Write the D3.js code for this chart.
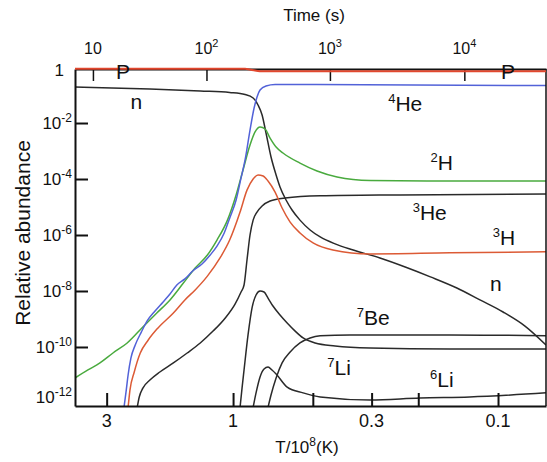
<!DOCTYPE html>
<html>
<head>
<meta charset="utf-8">
<script src="https://cdn.jsdelivr.net/npm/d3@7"></script>
<style>
  body { margin: 0; background: #fff; }
  svg { display: block; font-family: "Liberation Sans", Arial, Helvetica, sans-serif; }
</style>
</head>
<body>
<svg id="chart" width="547" height="462"></svg>
<script>
// each curve is [T in 10^8 K, relative abundance]
const protons = [[3.95, 0.87], [0.90, 0.87], [0.863, 0.81], [0.826, 0.75], [0.777, 0.70], [0.0659, 0.70]];

const neutrons = [[3.95, 0.193], [2.06, 0.164], [1.33, 0.139], [1.03, 0.123], [0.901, 0.104],
    [0.840, 0.078], [0.805, 0.044], [0.777, 0.0193], [0.751, 4.4e-3], [0.719, 6.1e-4],
    [0.688, 1.39e-4], [0.665, 5.2e-5], [0.631, 1.78e-5], [0.599, 7.8e-6], [0.559, 3.4e-6],
    [0.512, 1.51e-6], [0.469, 8.5e-7], [0.412, 4.8e-7], [0.352, 2.9e-7], [0.279, 1.51e-7],
    [0.224, 7.2e-8], [0.180, 3.2e-8], [0.143, 1.28e-8], [0.117, 4.8e-9], [0.0957, 1.78e-9],
    [0.0791, 5.6e-10], [0.0659, 1.18e-10]];

const helium4 = [[2.58, 7e-13], [2.53, 2.9e-12], [2.49, 1.0e-11], [2.43, 4.0e-11], [2.34, 1.18e-10],
    [2.22, 3.4e-10], [2.11, 8.5e-10], [1.97, 1.93e-9], [1.84, 4.0e-9], [1.73, 7.8e-9],
    [1.63, 1.64e-8], [1.52, 2.7e-8], [1.42, 5.2e-8], [1.31, 9.2e-8], [1.22, 1.93e-7],
    [1.15, 4.0e-7], [1.08, 1.18e-6], [1.03, 4.0e-6], [0.974, 1.78e-5], [0.933, 1.09e-4],
    [0.901, 4.8e-4], [0.863, 5.6e-3], [0.833, 0.0343], [0.812, 0.085], [0.791, 0.151],
    [0.751, 0.21], [0.694, 0.237], [0.0659, 0.218]];

const deuterium = [[3.95, 7.8e-12], [3.53, 1.51e-11], [3.18, 2.7e-11], [2.84, 6.1e-11], [2.51, 1.39e-10],
    [2.19, 5.2e-10], [1.94, 1.64e-9], [1.73, 4.8e-9], [1.54, 1.93e-8], [1.39, 6.6e-8],
    [1.25, 1.93e-7], [1.15, 6.6e-7], [1.05, 3.4e-6], [0.974, 2.7e-5], [0.917, 2.1e-4],
    [0.863, 1.64e-3], [0.826, 4.8e-3], [0.791, 7.2e-3], [0.757, 6.1e-3], [0.725, 2.9e-3],
    [0.688, 1.39e-3], [0.648, 8.5e-4], [0.559, 3.7e-4], [0.482, 1.93e-4], [0.405, 1.18e-4],
    [0.304, 8.8e-5], [0.152, 8.5e-5], [0.0659, 8.5e-5]];

const tritium = [[2.49, 7e-13], [2.45, 2.9e-12], [2.36, 1.28e-11], [2.24, 6.1e-11], [2.09, 1.78e-10],
    [1.92, 4.8e-10], [1.68, 1.64e-9], [1.52, 4.8e-9], [1.39, 1.09e-8], [1.25, 3.4e-8],
    [1.12, 1.51e-7], [1.03, 6.6e-7], [0.941, 6.6e-6], [0.886, 4.0e-5], [0.840, 1.0e-4],
    [0.805, 1.39e-4], [0.770, 1.28e-4], [0.738, 8.5e-5], [0.694, 3.4e-5], [0.653, 9.2e-6],
    [0.609, 2.9e-6], [0.559, 1.18e-6], [0.499, 5.2e-7], [0.420, 2.9e-7], [0.304, 2.1e-7],
    [0.152, 2.3e-7], [0.0659, 2.5e-7]];

const helium3 = [[2.30, 7e-13], [2.26, 1.64e-12], [2.19, 3.4e-12], [2.06, 6.6e-12], [1.89, 1.28e-11],
    [1.68, 2.7e-11], [1.49, 6.1e-11], [1.33, 1.39e-10], [1.19, 3.7e-10], [1.07, 1.09e-9],
    [0.983, 3.4e-9], [0.933, 9.2e-9], [0.909, 1.64e-8], [0.886, 1.28e-7], [0.863, 1.0e-6],
    [0.840, 3.4e-6], [0.812, 6.6e-6], [0.777, 1.09e-5], [0.725, 1.64e-5], [0.636, 2.1e-5],
    [0.469, 2.5e-5], [0.234, 2.7e-5], [0.0659, 2.9e-5]];

const lithium7 = [[0.941, 7e-13], [0.925, 3.4e-12], [0.909, 1.51e-11], [0.878, 2.7e-10], [0.848, 2.5e-9],
    [0.819, 7.2e-9], [0.791, 1.0e-8], [0.764, 9.2e-9], [0.738, 5.6e-9], [0.707, 2.9e-9],
    [0.665, 1.39e-9], [0.625, 7.2e-10], [0.583, 3.7e-10], [0.544, 2.1e-10], [0.490, 1.39e-10],
    [0.412, 1.09e-10], [0.304, 9.2e-11], [0.152, 8.5e-11], [0.0659, 8.5e-11]];

const beryllium7 = [[0.738, 7e-13], [0.719, 1.93e-12], [0.688, 7.8e-12], [0.653, 2.7e-11], [0.609, 6.6e-11],
    [0.559, 1.39e-10], [0.512, 2.1e-10], [0.469, 2.5e-10], [0.362, 2.7e-10], [0.152, 2.7e-10],
    [0.0659, 2.5e-10]];

const lithium6 = [[0.840, 7e-13], [0.819, 2.3e-12], [0.791, 8.5e-12], [0.764, 1.64e-11], [0.738, 1.93e-11],
    [0.713, 1.51e-11], [0.688, 1.09e-11], [0.625, 3.7e-12], [0.544, 2.3e-12], [0.469, 1.64e-12],
    [0.304, 1.28e-12], [0.197, 1.51e-12], [0.128, 1.64e-12], [0.0659, 2.3e-12]];

// axis ticks
const tempTicks = [3, 1, 0.3, 0.1];
const tempMinorTicks = [0.5, 0.2];
const abundanceTicks = [1, 1e-2, 1e-4, 1e-6, 1e-8, 1e-10, 1e-12];
// time axis: temperature where each time decade falls, and its exponent
const timeTickTemps = [3.38, 1.26, 0.431, 0.134];
const timeTickExps = ["", "2", "3", "4"];

// curve labels: superscript, name, and where they sit (T, abundance)
const curveLabels = [
    {sup: "", name: "P", T: 2.6, v: 0.66},
    {sup: "", name: "P", T: 0.0917, v: 0.66},
    {sup: "", name: "n", T: 2.32, v: 0.056},
    {sup: "4", name: "He", T: 0.224, v: 0.048},
    {sup: "2", name: "H", T: 0.163, v: 3.7e-4},
    {sup: "3", name: "He", T: 0.181, v: 6.1e-6},
    {sup: "3", name: "H", T: 0.0949, v: 7.8e-7},
    {sup: "", name: "n", T: 0.102, v: 1.78e-8},
    {sup: "7", name: "Be", T: 0.296, v: 1.1e-9},
    {sup: "7", name: "Li", T: 0.398, v: 1.78e-11},
    {sup: "6", name: "Li", T: 0.163, v: 6.6e-12}
];

const RED = "#e2472e";
const ORANGE = "#dc5a35";
const BLUE = "#5262d8";
const GREEN = "#49aa3e";
const BLACK = "#2a2a2a";

// black curves first, coloured ones on top
const series = [
    {pts: lithium6, color: BLACK},
    {pts: lithium7, color: BLACK},
    {pts: beryllium7, color: BLACK},
    {pts: helium3, color: BLACK},
    {pts: neutrons, color: BLACK},
    {pts: tritium, color: ORANGE},
    {pts: deuterium, color: GREEN},
    {pts: helium4, color: BLUE}
];

let svg = d3.select("#chart");
let plotLeft = 75, plotRight = 546, plotTop = 69, plotBottom = 406;

// temperature falls to the right
let x = d3.scaleLog().domain([3.95, 0.0659]).range([plotLeft, plotRight]);
let y = d3.scaleLog().domain([7.8e-13, 0.85]).range([plotBottom, plotTop]);

svg.append("clipPath").attr("id", "plotclip")
    .append("rect")
    .attr("x", plotLeft).attr("y", plotTop - 4)
    .attr("width", plotRight - plotLeft).attr("height", plotBottom - plotTop + 4);

let line = d3.line()
    .x(d => x(d[0]))
    .y(d => y(d[1]))
    .curve(d3.curveMonotoneX);

let curves = svg.append("g").attr("clip-path", "url(#plotclip)");

curves.selectAll("path.curve")
    .data(series)
    .enter().append("path")
    .attr("class", "curve")
    .attr("d", d => line(d.pts))
    .attr("fill", "none")
    .attr("stroke", d => d.color)
    .attr("stroke-width", 1.5);

//frame + ticks (ticks point inward)
let axisLeft = svg.append("g")
    .attr("transform", "translate(" + plotLeft + ",0)")
    .call(d3.axisLeft(y).tickValues(abundanceTicks.slice(1, 6)).tickSize(-13).tickSizeOuter(0).tickFormat(""));

let axisBottom = svg.append("g")
    .attr("transform", "translate(0," + plotBottom + ")")
    .call(d3.axisBottom(x).tickValues(tempTicks.concat(tempMinorTicks)).tickSize(-13).tickSizeOuter(0).tickFormat(""));

let axisTop = svg.append("g")
    .attr("transform", "translate(0," + plotTop + ")")
    .call(d3.axisTop(x).tickValues(timeTickTemps).tickSize(-12).tickSizeOuter(0).tickFormat(""));

svg.selectAll(".domain, .tick line").attr("stroke", "#111");
axisLeft.selectAll(".domain, .tick line").attr("stroke-width", 2);
axisBottom.selectAll(".domain, .tick line").attr("stroke-width", 2);
axisTop.selectAll(".domain").attr("stroke-width", 2);
axisTop.selectAll(".tick line").attr("stroke-width", 1.5);

svg.append("line")
    .attr("x1", plotRight).attr("x2", plotRight)
    .attr("y1", plotTop).attr("y2", plotBottom)
    .attr("stroke", "#111").attr("stroke-width", 1.5);

// the proton line sits on top of the frame
svg.append("g").attr("clip-path", "url(#plotclip)")
    .append("path")
    .attr("d", line(protons))
    .attr("fill", "none")
    .attr("stroke", RED)
    .attr("stroke-width", 2);

// left tick labels, 10 with superscript exponent
abundanceTicks.forEach(v => {
    let exp = Math.round(Math.log10(v));
    let ty = Math.min(Math.max(y(v), 70), 397);
    let t = svg.append("text")
        .attr("text-anchor", "end")
        .attr("y", ty + 6)
        .attr("fill", "#111");
    if (exp == 0) {
        t.attr("x", 64).attr("font-size", 17).text("1");
    } else {
        t.attr("x", 72);
        t.append("tspan").attr("font-size", 17).text("10");
        t.append("tspan").attr("font-size", 12).attr("dy", -7).text(String(exp));
    }
});

// bottom tick labels
svg.selectAll("text.tlabel")
    .data(tempTicks)
    .enter().append("text")
    .attr("class", "tlabel")
    .attr("x", d => x(d))
    .attr("y", 427)
    .attr("text-anchor", "middle")
    .attr("font-size", 18)
    .attr("fill", "#111")
    .text(d => String(d));

// top tick labels (time)
timeTickTemps.forEach((T, i) => {
    let t = svg.append("text")
        .attr("x", x(T))
        .attr("y", 54)
        .attr("text-anchor", "middle")
        .attr("fill", "#111");
    t.append("tspan").attr("font-size", 16).text("10");
    if (timeTickExps[i]) {
        t.append("tspan").attr("font-size", 11).attr("dy", -7).text(timeTickExps[i]);
    }
});

// axis titles
svg.append("text")
    .attr("x", 314).attr("y", 21)
    .attr("text-anchor", "middle")
    .attr("font-size", 17)
    .attr("fill", "#111")
    .text("Time (s)");

let xt = svg.append("text")
    .attr("x", 307).attr("y", 453)
    .attr("text-anchor", "middle")
    .attr("font-size", 17)
    .attr("fill", "#111");
xt.append("tspan").text("T/10");
xt.append("tspan").attr("font-size", 12).attr("dy", -7).text("8");
xt.append("tspan").attr("dy", 7).text("(K)");

svg.append("text")
    .attr("transform", "translate(30,233) rotate(-90)")
    .attr("text-anchor", "middle")
    .attr("font-size", 21)
    .attr("fill", "#111")
    .text("Relative abundance");

// curve labels
curveLabels.forEach(d => {
    let t = svg.append("text")
        .attr("x", x(d.T))
        .attr("y", y(d.v) + 7)
        .attr("text-anchor", "middle")
        .attr("fill", "#111");
    if (d.sup) {
        t.append("tspan").attr("font-size", 13).attr("dy", -8).text(d.sup);
        t.append("tspan").attr("font-size", 21).attr("dy", 8).text(d.name);
    } else {
        t.append("tspan").attr("font-size", 21).text(d.name);
    }
});
</script>
</body>
</html>
